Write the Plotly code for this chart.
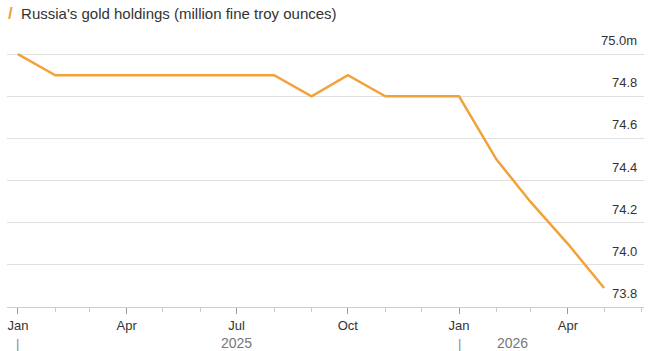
import plotly.graph_objects as go

months = ["2025-01-01", "2025-02-01", "2025-03-01", "2025-04-01", "2025-05-01", "2025-06-01",
          "2025-07-01", "2025-08-01", "2025-09-01", "2025-10-01", "2025-11-01", "2025-12-01",
          "2026-01-01", "2026-02-01", "2026-03-01", "2026-04-01", "2026-05-01"]
holdings = [75.0, 74.9, 74.9, 74.9, 74.9, 74.9, 74.9, 74.9, 74.8, 74.9, 74.8, 74.8,
            74.8, 74.5, 74.3, 74.1, 73.89]
y_ticks = [73.8, 74.0, 74.2, 74.4, 74.6, 74.8, 75.0]
y_labels = ["73.8", "74.0", "74.2", "74.4", "74.6", "74.8", "75.0m"]
series_name = "Russia's gold holdings (million fine troy ounces)"
years = ["2025", "2026"]
year_label_pos = ["2025-07-01", "2026-02-14"]
year_starts = ["2025-01-01", "2026-01-01"]

color = "#f2a23a"
font = "Liberation Sans, Arial, sans-serif"

fig = go.Figure()
fig.add_trace(go.Scatter(x=months, y=holdings, mode="lines",
                         line=dict(color=color, width=2.5), name=series_name,
                         showlegend=False))

fig.update_layout(
    width=652, height=351,
    margin=dict(l=7, r=8, t=50, b=44, autoexpand=False),
    paper_bgcolor="white", plot_bgcolor="white",
    font=dict(family=font, size=13, color="#333333"),
    xaxis=dict(
        type="date", range=["2024-12-23", "2026-06-03"], automargin=False,
        tick0="2025-01-01", dtick="M3", tickformat="%b",
        ticks="outside", ticklen=6, tickcolor="#999999", tickwidth=1,
        showgrid=False, showline=True, linecolor="#cccccc", linewidth=1,
        minor=dict(dtick="M1", tick0="2025-01-01", ticks="outside", ticklen=4,
                   tickcolor="#cccccc", showgrid=False),
        tickfont=dict(size=13, color="#333333"), zeroline=False,
    ),
    yaxis=dict(
        range=[73.8, 75.02], side="right", tickvals=y_ticks, showticklabels=False,
        automargin=False, showgrid=True, gridcolor="#e0e0e0",
        gridwidth=1, zeroline=False, ticks="", showline=False,
    ),
)

for val, lbl in zip(y_ticks, y_labels):
    fig.add_annotation(x=1, y=val, xref="paper", yref="y", xanchor="right",
                       yanchor="bottom", yshift=4, xshift=-5, showarrow=False, text=lbl,
                       font=dict(size=13, color="#333333"))

fig.add_annotation(x=0, y=1, xref="paper", yref="paper", xshift=-1, yshift=37,
                   xanchor="left", yanchor="middle", showarrow=False,
                   text=f"<span style='color:{color}; font-size:17px'><b>/</b></span>&nbsp;&nbsp;{series_name}",
                   font=dict(size=15, color="#333333"))

for lbl, pos in zip(years, year_label_pos):
    fig.add_annotation(x=pos, y=0, xref="x", yref="paper", yshift=-36,
                       xanchor="center", yanchor="middle", showarrow=False,
                       text=lbl, font=dict(size=14, color="#777777"))
for pos in year_starts:
    fig.add_annotation(x=pos, y=0, xref="x", yref="paper", yshift=-36,
                       xanchor="center", yanchor="middle", showarrow=False,
                       text="|", font=dict(size=13, color="#888888"))

fig.write_html("out.html", config={"displayModeBar": False},
               post_script="document.body.style.margin='0px';document.body.style.overflow='hidden';")
